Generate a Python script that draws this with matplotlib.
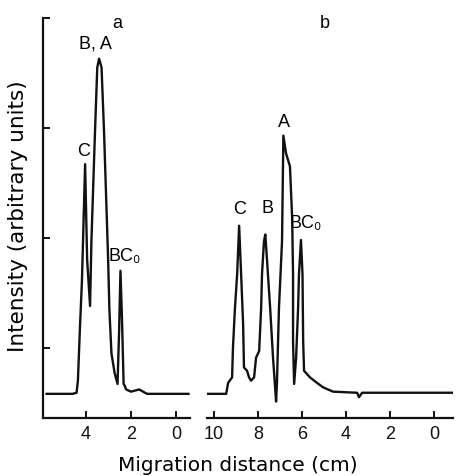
import matplotlib
matplotlib.use("Agg")
import matplotlib.pyplot as plt

plt.rcParams['font.family'] = ['Liberation Sans', 'DejaVu Sans']

# densitometer trace, panel a (migration distance in cm, intensity in arbitrary units)
a_dist = [5.75, 4.6, 4.42, 4.36, 4.27, 4.18, 4.04, 3.95, 3.82, 3.76, 3.6,
          3.5, 3.42, 3.31, 3.2, 3.02, 2.96, 2.87, 2.73, 2.60, 2.53, 2.47,
          2.40, 2.33, 2.27, 2.22, 2.0, 1.64, 1.29, 0.89, -0.55]
a_int = [0.58, 0.58, 0.59, 0.70, 1.18, 1.61, 2.67, 1.80, 1.38, 1.97, 2.97,
         3.55, 3.63, 3.55, 2.97, 1.82, 1.34, 0.95, 0.77, 0.67, 1.15, 1.70,
         1.25, 0.67, 0.65, 0.62, 0.60, 0.62, 0.58, 0.58, 0.58]

# panel b
b_dist = [10.27, 9.45, 9.36, 9.18, 9.14, 9.05, 8.95, 8.86, 8.77, 8.68, 8.64,
          8.5, 8.41, 8.32, 8.18, 8.09, 7.95, 7.86, 7.82, 7.73, 7.67, 7.59,
          7.45, 7.32, 7.18, 7.14, 7.05, 6.91, 6.85, 6.73, 6.55, 6.45, 6.41,
          6.41, 6.36, 6.27, 6.18, 6.14, 6.05, 5.98, 5.95, 5.91, 5.64, 5.32,
          5.05, 4.59, 3.5, 3.41, 3.27, -0.86]
b_int = [0.58, 0.58, 0.68, 0.73, 1.0, 1.36, 1.67, 2.11, 1.67, 1.22, 0.82,
         0.79, 0.73, 0.70, 0.73, 0.91, 0.97, 1.36, 1.67, 1.97, 2.03, 1.79,
         1.36, 0.91, 0.51, 0.69, 1.36, 1.97, 2.93, 2.77, 2.65, 2.18, 1.67,
         1.06, 0.67, 0.91, 1.36, 1.67, 1.98, 1.67, 1.06, 0.79, 0.73, 0.68,
         0.64, 0.60, 0.59, 0.55, 0.59, 0.59]

# peak labels: (text, distance, intensity)
a_labels = [("C", 4.13, 2.79), ("B, A", 3.6, 3.76), ("BC₀", 2.27, 1.83)]
b_labels = [("C", 8.86, 2.26), ("B", 7.55, 2.27), ("A", 6.82, 3.05), ("BC₀", 5.82, 2.13)]

fig = plt.figure(figsize=(4.63, 4.76), dpi=100)
ax_a = fig.add_axes([0.0929, 0.1218, 0.3175, 0.8403])
ax_b = fig.add_axes([0.4471, 0.1218, 0.5313, 0.8403])

ink = "#111111"
for ax in (ax_a, ax_b):
    ax.set_ylim(0.36, 4.0)
    for s in ("top", "right"):
        ax.spines[s].set_visible(False)
    ax.spines["bottom"].set_linewidth(1.6)
    ax.spines["bottom"].set_color(ink)
    ax.tick_params(axis="x", direction="in", length=5, width=1.4, colors=ink,
                   labelsize=13, pad=6)

ax_a.plot(a_dist, a_int, color=ink, lw=1.7)
ax_a.set_xlim(5.91, -0.62)
ax_a.set_xticks([4, 2, 0])
ax_a.set_yticks([1, 2, 3, 4])
ax_a.set_yticklabels([])
ax_a.spines["left"].set_linewidth(1.6)
ax_a.spines["left"].set_color(ink)
ax_a.tick_params(axis="y", direction="in", length=5, width=1.4, colors=ink)
ax_a.text(2.62, 3.95, "a", fontsize=13, ha="center", va="center")

ax_b.plot(b_dist, b_int, color=ink, lw=1.7)
ax_b.set_xlim(10.32, -0.86)
ax_b.set_xticks([10, 8, 6, 4, 2, 0])
ax_b.spines["left"].set_visible(False)
ax_b.set_yticks([])
ax_b.text(4.95, 3.95, "b", fontsize=13, ha="center", va="center")

for ax, labels in ((ax_a, a_labels), (ax_b, b_labels)):
    for txt, x, y in labels:
        ax.text(x, y, txt, fontsize=13, ha="center", va="center")

fig.text(0.039, 0.546, "Intensity (arbitrary units)", fontsize=15.5, family="DejaVu Sans",
         rotation=90, ha="center", va="center")
fig.text(0.514, 0.023, "Migration distance (cm)", fontsize=14.5, family="DejaVu Sans",
         ha="center", va="center")

fig.savefig("out.png", dpi=100)
